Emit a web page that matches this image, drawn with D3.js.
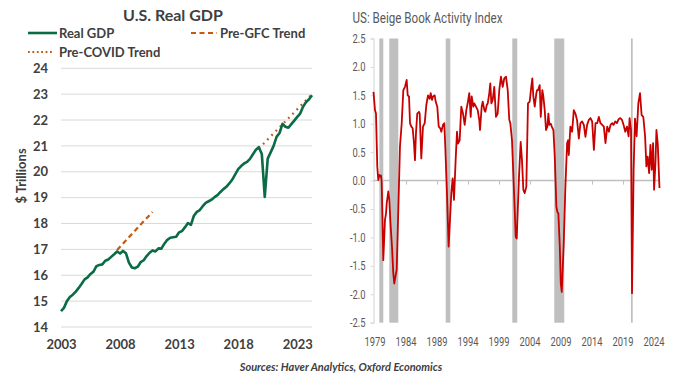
<!DOCTYPE html>
<html><head><meta charset="utf-8">
<script src="https://cdn.jsdelivr.net/npm/d3@7"></script>
<style>
html,body{margin:0;padding:0;background:#fff;}
svg{display:block;}
</style></head>
<body>
<svg id="chart" width="699" height="383"></svg>
<script>
// ---------- Left panel data: U.S. Real GDP ($ trillions), quarterly 2003Q1..2024Q2
const gdpStartYear = 2003;
const gdpValues = [
  14.61, 14.74, 15.00, 15.16,
  15.25, 15.37, 15.51, 15.67,
  15.84, 15.92, 16.05, 16.14,
  16.35, 16.40, 16.42, 16.56,
  16.61, 16.71, 16.81, 16.92,
  16.84, 16.94, 16.85, 16.49,
  16.30, 16.27, 16.33, 16.51,
  16.58, 16.74, 16.87, 16.96,
  16.92, 17.04, 17.03, 17.22,
  17.37, 17.45, 17.47, 17.49,
  17.66, 17.71, 17.86, 18.02,
  17.95, 18.30, 18.45, 18.52,
  18.67, 18.80, 18.86, 18.92,
  19.02, 19.10, 19.22, 19.33,
  19.42, 19.55, 19.70, 19.90,
  20.10, 20.22, 20.32, 20.38,
  20.50, 20.68, 20.85, 20.95,
  20.69, 19.03, 20.51, 20.75,
  21.00, 21.35, 21.50, 21.85,
  21.74, 21.70, 21.84, 21.98,
  22.12, 22.25, 22.52, 22.70,
  22.80, 22.96
];
const preGfcTrend = [[2007.75, 16.98], [2010.75, 18.45]];
const preCovidTrend = [[2019.75, 20.90], [2024.25, 23.00]];
const gdpYTicks = [14, 15, 16, 17, 18, 19, 20, 21, 22, 23, 24];
const gdpXTicks = [2003, 2008, 2013, 2018, 2023];

// ---------- Right panel data: Beige Book Activity Index
const bbDates = [
  1978.75, 1978.99, 1979.15, 1979.36, 1979.52, 1979.69, 1979.80, 1979.96, 1980.07, 1980.33,
  1980.60, 1980.77, 1980.88, 1981.14, 1981.30, 1981.52, 1981.73, 1981.94, 1982.10, 1982.38,
  1982.49, 1982.59, 1982.75, 1983.02, 1983.30, 1983.56, 1983.83, 1984.10, 1984.27, 1984.48,
  1984.64, 1984.85, 1985.07, 1985.28, 1985.44, 1985.60, 1985.81, 1986.09, 1986.20, 1986.46,
  1986.73, 1987.01, 1987.27, 1987.54, 1987.81, 1987.98, 1988.19, 1988.35, 1988.62, 1988.78,
  1989.04, 1989.27, 1989.52, 1989.69, 1989.96, 1990.17, 1990.33, 1990.60, 1990.87, 1991.09,
  1991.30, 1991.52, 1991.73, 1992.00, 1992.22, 1992.38, 1992.65, 1992.91, 1993.19, 1993.46,
  1993.72, 1993.94, 1994.20, 1994.43, 1994.59, 1994.85, 1995.01, 1995.28, 1995.56, 1995.82,
  1995.93, 1996.20, 1996.37, 1996.63, 1996.79, 1997.02, 1997.18, 1997.43, 1997.59, 1997.76,
  1997.98, 1998.23, 1998.51, 1998.78, 1999.04, 1999.31, 1999.59, 1999.85, 2000.12, 2000.40,
  2000.65, 2000.82, 2001.09, 2001.47, 2001.69, 2001.85, 2002.22, 2002.49, 2002.70, 2002.92,
  2003.14, 2003.40, 2003.67, 2003.94, 2004.20, 2004.37, 2004.53, 2004.76, 2005.01, 2005.13,
  2005.29, 2005.56, 2005.73, 2005.98, 2006.15, 2006.37, 2006.58, 2006.80, 2006.96, 2007.12,
  2007.35, 2007.51, 2007.77, 2007.99, 2008.25, 2008.41, 2008.57, 2008.80, 2008.96, 2009.12,
  2009.44, 2009.70, 2009.98, 2010.14, 2010.25, 2010.51, 2010.79, 2011.06, 2011.32, 2011.59,
  2011.87, 2012.13, 2012.40, 2012.68, 2012.94, 2013.21, 2013.49, 2013.75, 2014.02, 2014.30,
  2014.56, 2014.83, 2015.10, 2015.36, 2015.64, 2015.91, 2016.17, 2016.45, 2016.72, 2016.99,
  2017.26, 2017.47, 2017.75, 2018.02, 2018.29, 2018.56, 2018.83, 2019.09, 2019.36, 2019.64,
  2019.90, 2020.06, 2020.29, 2020.45, 2020.71, 2020.93, 2021.19, 2021.47, 2021.74, 2022.00,
  2022.27, 2022.56, 2022.77, 2022.98, 2023.21, 2023.42, 2023.63, 2023.85, 2024.01, 2024.23,
  2024.39, 2024.60, 2024.88
];
const bbValues = [
  1.56, 1.24, 1.18, 0.25, 0.01, 0.10, 0.07, 0.09, -0.02, -1.40,
  -0.69, -0.58, -0.40, -0.19, -0.34, -0.81, -1.16, -1.63, -1.81, -1.63,
  -1.57, -1.16, -0.52, 0.60, 1.01, 1.59, 1.65, 1.77, 1.50, 1.48,
  1.01, 0.95, 0.92, 0.66, 0.36, 0.83, 1.18, 1.21, 1.18, 0.39,
  0.95, 1.01, 1.33, 1.50, 1.44, 1.54, 1.42, 1.48, 1.50, 1.39,
  1.30, 0.95, 0.92, 0.86, 0.98, 1.01, 0.60, -0.22, -1.16, -0.69,
  -0.22, 0.04, -0.34, 0.36, 0.86, 0.65, 0.71, 1.30, 1.18, 0.98,
  1.24, 1.36, 1.54, 1.12, 1.48, 1.30, 1.36, 1.30, 1.24, 1.06,
  0.89, 1.30, 1.39, 1.24, 1.21, 1.33, 1.36, 1.54, 1.71, 1.36,
  1.42, 1.65, 1.12, 1.18, 1.59, 1.83, 1.65, 1.80, 1.83, 1.59,
  1.07, 1.01, 0.71, -0.34, -0.99, -1.02, 0.07, 0.68, 0.36, -0.16,
  -0.22, -0.11, 1.36, 1.39, 1.65, 1.80, 1.48, 1.30, 1.53, 1.59,
  1.59, 1.68, 1.12, 1.59, 1.48, 1.24, 0.89, 0.95, 1.18, 0.98,
  1.00, 0.95, 0.89, 0.42, -0.46, -0.55, -0.58, -1.16, -1.81, -1.96,
  -1.10, -0.11, 0.66, 0.71, 0.45, 0.95, 0.86, 1.24, 1.18, 1.06,
  0.74, 1.01, 1.04, 0.98, 0.77, 0.98, 1.07, 1.10, 1.04, 0.54,
  1.01, 1.01, 1.12, 1.01, 0.98, 0.95, 0.66, 0.95, 0.86, 0.98,
  1.01, 0.98, 1.04, 1.01, 1.08, 1.10, 1.07, 0.98, 0.86, 0.95,
  0.78, 1.10, 0.89, -1.98, 0.19, 1.09, 0.78, 1.36, 1.54, 1.15,
  1.12, 0.78, 0.25, 0.42, 0.13, 0.63, 0.19, 0.66, -0.16, 0.31,
  0.89, 0.65, -0.13
];
const recessionStarts = [1979.69, 1981.30, 1990.40, 2001.14, 2007.91, 2020.28];
const recessionEnds   = [1980.33, 1982.75, 1991.14, 2001.94, 2009.52, 2020.56];
const bbYTicks = [-2.5, -2.0, -1.5, -1.0, -0.5, 0.0, 0.5, 1.0, 1.5, 2.0, 2.5];
const bbXTicks = [1979, 1984, 1989, 1994, 1999, 2004, 2009, 2014, 2019, 2024];

const svg = d3.select("#chart");
const darkText = "#404040";

// horizontally condense text (reference uses a narrow face)
function condense(sel, k) {
  sel.each(function () {
    const w = this.getComputedTextLength();
    if (w > 0) d3.select(this).attr("textLength", w * k).attr("lengthAdjust", "spacingAndGlyphs");
  });
}

// ================= LEFT PANEL =================
const L = svg.append("g");
const lx = d3.scaleLinear().domain([2003, 2024.25]).range([61, 312]);
const ly = d3.scaleLinear().domain([14, 24]).range([327, 68.3]);

L.append("text").attr("x", 173).attr("y", 21).attr("text-anchor", "middle")
  .attr("font-family", "Lato, sans-serif").attr("font-weight", 700)
  .attr("font-size", 16).attr("fill", darkText).text("U.S. Real GDP");

// gridlines
L.append("g").selectAll("line").data(gdpYTicks).join("line")
  .attr("x1", 61).attr("x2", 312)
  .attr("y1", d => ly(d)).attr("y2", d => ly(d))
  .attr("stroke", "#d9d9d9").attr("stroke-width", 1);

// y axis labels
const lyAxis = d3.axisLeft(ly).tickValues(gdpYTicks).tickSize(0).tickPadding(0).tickFormat(d3.format("d"));
const gLY = L.append("g").attr("transform", "translate(48,0)").call(lyAxis);
gLY.select(".domain").remove();
gLY.selectAll("text").attr("font-family", "Lato, sans-serif").attr("font-weight", 700)
  .attr("font-size", 13).attr("fill", darkText);

// x axis labels
const lxAxis = d3.axisBottom(lx).tickValues(gdpXTicks).tickSize(0).tickPadding(0).tickFormat(d3.format("d"));
const gLX = L.append("g").attr("transform", "translate(0,340)").call(lxAxis);
gLX.select(".domain").remove();
gLX.selectAll("text").attr("font-family", "Lato, sans-serif").attr("font-weight", 700)
  .attr("font-size", 13).attr("fill", darkText);

// y title
L.append("text").attr("transform", "translate(26,176) rotate(-90)")
  .attr("text-anchor", "middle").attr("font-family", "Lato, sans-serif").attr("font-weight", 700)
  .attr("font-size", 13).attr("fill", darkText).text("$ Trillions");

const gdpData = gdpValues.map((v, i) => [gdpStartYear + i / 4, v]);
const lline = d3.line().x(d => lx(d[0])).y(d => ly(d[1]));

L.append("path").datum(preGfcTrend).attr("d", lline).attr("fill", "none")
  .attr("stroke", "#c55a11").attr("stroke-width", 2.2).attr("stroke-dasharray", "5,3.5");
L.append("path").datum(preCovidTrend).attr("d", lline).attr("fill", "none")
  .attr("stroke", "#c55a11").attr("stroke-width", 2.2).attr("stroke-dasharray", "1.8,4.2");
L.append("path").datum(gdpData).attr("d", lline).attr("fill", "none")
  .attr("stroke", "#0a6b45").attr("stroke-width", 2.6).attr("stroke-linejoin", "round");

// legend
const legFont = g => g.attr("font-family", "Lato, sans-serif").attr("font-weight", 700)
  .attr("font-size", 13).attr("fill", darkText);
L.append("line").attr("x1", 28).attr("x2", 57).attr("y1", 33).attr("y2", 33)
  .attr("stroke", "#0a6b45").attr("stroke-width", 2.6);
L.append("text").attr("x", 59).attr("y", 37.5).call(legFont).text("Real GDP");
L.append("line").attr("x1", 191).attr("x2", 217).attr("y1", 33).attr("y2", 33)
  .attr("stroke", "#c55a11").attr("stroke-width", 2.2).attr("stroke-dasharray", "5,3.5");
L.append("text").attr("x", 220).attr("y", 37.5).call(legFont).text("Pre-GFC Trend");
L.append("line").attr("x1", 28).attr("x2", 54).attr("y1", 52).attr("y2", 52)
  .attr("stroke", "#c55a11").attr("stroke-width", 2.2).attr("stroke-dasharray", "1.8,2.6");
L.append("text").attr("x", 59).attr("y", 56.5).call(legFont).text("Pre-COVID Trend");

// ================= RIGHT PANEL =================
const R = svg.append("g");
const rx = d3.scaleLinear().domain([1978.75, 2024.9]).range([373.5, 659.6]);
const ry = d3.scaleLinear().domain([-2.5, 2.5]).range([322.7, 38.5]);
const rFont = "Roboto, 'Liberation Sans', sans-serif";
const rText = "#595959";

R.append("text").attr("x", 352.5).attr("y", 23).attr("font-family", rFont)
  .attr("font-size", 14.5).attr("fill", rText).text("US: Beige Book Activity Index")
  .call(condense, 0.8);

// recession bars
R.append("g").selectAll("rect").data(recessionStarts.map((s, i) => [s, recessionEnds[i]])).join("rect")
  .attr("x", d => rx(d[0])).attr("width", d => rx(d[1]) - rx(d[0]))
  .attr("y", ry(2.5)).attr("height", ry(-2.5) - ry(2.5))
  .attr("fill", "#bfbfbf");

// y axis
const ryAxis = d3.axisLeft(ry).tickValues(bbYTicks).tickSize(3).tickPadding(5).tickFormat(d3.format(".1f"));
const gRY = R.append("g").attr("transform", `translate(${rx(1978.75)},0)`).call(ryAxis);
gRY.select(".domain").attr("stroke", "#d9d9d9").attr("stroke-width", 1.2);
gRY.selectAll(".tick line").attr("stroke", "#d9d9d9");
gRY.selectAll("text").attr("font-family", rFont).attr("font-size", 12).attr("fill", rText)
  .text(d => d3.format(".1f")(d).replace("−", "-"))
  .call(condense, 0.78);

// zero line with ticks
const rxAxis = d3.axisBottom(rx).tickValues(bbXTicks.slice(1)).tickSize(4).tickFormat("");
const gRX = R.append("g").attr("transform", `translate(0,${ry(0)})`).call(rxAxis);
gRX.select(".domain").attr("d", `M${rx(1978.75)},0H660`).attr("stroke", "#bfbfbf").attr("stroke-width", 1.5);
gRX.selectAll(".tick line").attr("stroke", "#bfbfbf");

// x labels
R.append("g").selectAll("text").data(bbXTicks).join("text")
  .attr("x", d => rx(d)).attr("y", 345.5).attr("text-anchor", "middle")
  .attr("font-family", rFont).attr("font-size", 13).attr("fill", rText).text(d => d)
  .call(condense, 0.72);

// line
const bbData = bbDates.map((d, i) => [d, bbValues[i]]);
R.append("path").datum(bbData)
  .attr("d", d3.line().x(d => rx(d[0])).y(d => ry(d[1])))
  .attr("fill", "none").attr("stroke", "#c80000").attr("stroke-width", 1.8).attr("stroke-linejoin", "round");

// source
svg.append("text").attr("x", 341).attr("y", 371).attr("text-anchor", "middle")
  .attr("font-family", "Lato, sans-serif").attr("font-style", "italic").attr("font-weight", 700)
  .attr("font-size", 11).attr("fill", darkText).text("Sources: Haver Analytics, Oxford Economics");
</script>
</body></html>
